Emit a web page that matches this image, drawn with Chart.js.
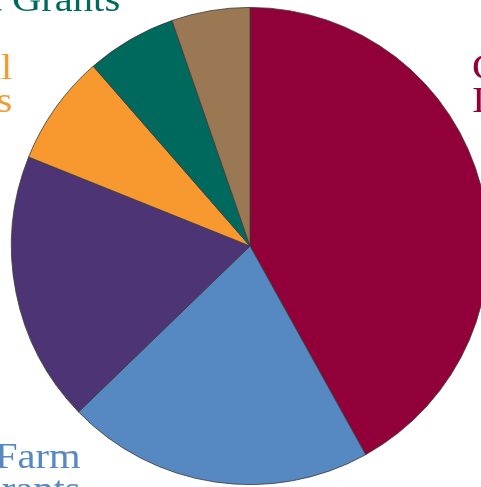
<!DOCTYPE html>
<html>
<head>
<meta charset="utf-8">
<script src="https://cdn.jsdelivr.net/npm/chart.js@4"></script>
<style>
  html, body { margin: 0; padding: 0; overflow: hidden; background: #fff; }
  #wrap { width: 500px; height: 487px; position: relative; }
</style>
</head>
<body>
<div id="wrap"><canvas id="myChart"></canvas></div>

<script>
// slices, clockwise from 12 o'clock
const categories = [
  ["Crop", "Insurance"],
  ["Non-Farm", "Grants"],
  ["Direct Loans"],
  ["Commercial", "Loans"],
  ["Direct Grants"],
  ["Other"]
]
const shares = [41.9, 20.8, 18.3, 7.5, 6.1, 5.3]
const colours = ["#920039", "#5689c1", "#4d3575", "#f7992f", "#00695e", "#9a7853"]

// label anchor for each slice, in units of the pie radius from its centre
const labelSpots = [
  { dx: 0.93, dy: -0.70, align: "left" },
  { dx: -0.71, dy: 0.93, align: "right" },
  { dx: -1.10, dy: 0.25, align: "right" },
  { dx: -0.996, dy: -0.70, align: "right" },
  { dx: -0.544, dy: -0.987, align: "right" },
  { dx: 0.02, dy: -1.15, align: "center" }
]

// the original type is a wide serif, so stretch Liberation Serif a bit
const stretch = 1.16

const sliceLabels = {
  id: 'sliceLabels',
  afterDraw(chart) {
    const ctx = chart.ctx
    const arcs = chart.getDatasetMeta(0).data
    ctx.save()
    ctx.font = '35px "Liberation Serif", "DejaVu Serif", serif'
    ctx.textBaseline = 'alphabetic'
    arcs.forEach((arc, i) => {
      const r = arc.outerRadius
      const spot = labelSpots[i]
      const x = arc.x + spot.dx * r
      const y = arc.y + spot.dy * r
      ctx.fillStyle = colours[i]
      ctx.textAlign = spot.align
      categories[i].forEach((line, j) => {
        ctx.save()
        ctx.translate(x, y + j * 33)
        ctx.scale(stretch, 1)
        ctx.fillText(line, 0, 0)
        ctx.restore()
      })
    })
    ctx.restore()
  }
}

new Chart(document.getElementById('myChart'), {
  type: 'pie',
  data: {
    labels: categories.map(c => c.join(' ')),
    datasets: [{
      data: shares,
      backgroundColor: colours,
      borderColor: '#3a3a3a',
      borderWidth: 0.8
    }]
  },
  options: {
    responsive: true,
    maintainAspectRatio: false,
    animation: false,
    layout: { padding: { left: 11, right: 11, top: 7, bottom: 2 } },
    plugins: {
      legend: { display: false },
      tooltip: { enabled: false }
    }
  },
  plugins: [sliceLabels]
})
</script>
</body>
</html>
